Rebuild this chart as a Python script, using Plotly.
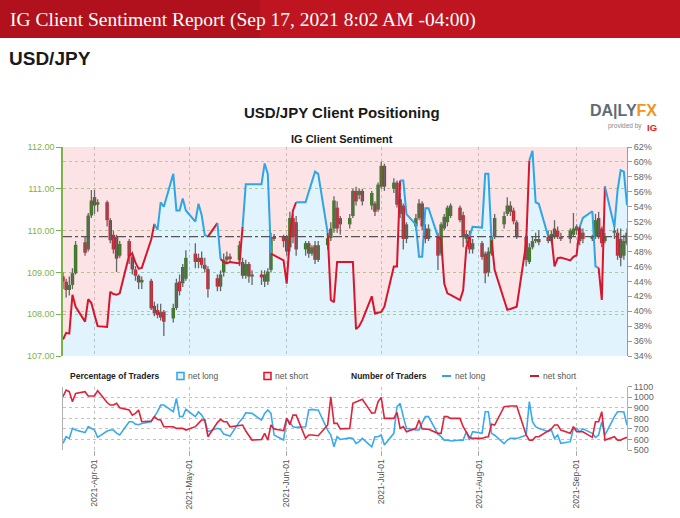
import plotly.graph_objects as go
import pandas as pd

# ---------------- data ----------------
dates = pd.bdate_range("2021-03-22", "2021-09-17")   # trading days shown

price_open = [
    108.90, 108.78, 108.58, 108.70, 108.98,
    109.72, 109.55, 110.36, 110.80, 110.62,
    110.68, 110.25, 109.90, 109.85, 109.40,
    109.75, 109.38, 109.07, 108.92, 108.76,
    108.80, 108.20, 108.10, 108.05, 108.06,
    107.90, 108.15, 108.78, 108.74, 108.85,
    109.45, 109.25, 109.35, 109.18, 109.08,
    108.86, 108.66, 109.00, 109.30, 109.38,
    109.30, 109.25, 108.92, 109.20, 108.90,
    108.95, 108.95, 108.78, 109.06, 109.85,
    109.85, 109.85, 109.60, 110.30, 110.20,
    109.55, 109.70, 109.45, 109.65, 109.30,
    109.65, 109.82, 110.05, 110.55, 110.30,
    110.15, 110.35, 110.95, 110.85, 110.95,
    110.60, 110.65, 110.50, 111.05, 111.55,
    111.00, 111.15, 110.75, 110.60, 109.80,
    110.10, 110.30, 110.65, 110.05, 109.80,
    109.85, 109.45, 110.05, 110.20, 110.35,
    110.55, 110.37, 109.80, 109.90, 109.55,
    109.70, 109.45, 109.00, 109.45, 109.85,
    110.15, 110.40, 110.60, 110.48, 110.20,
    109.85, 109.25, 109.60, 109.75, 109.80,
    109.85, 109.75, 110.05, 110.00, 109.85,
    109.80, 109.90, 110.00, 110.05, 109.95,
    109.80, 109.85, 110.30, 110.05, 109.75,
    109.95, 109.95, 109.80, 109.40, 109.70,
]
price_high = [
    109.00, 108.85, 108.90, 109.10, 109.75,
    109.85, 110.42, 110.97, 110.97, 110.75,
    110.72, 110.30, 110.00, 109.90, 109.75,
    109.80, 109.50, 109.15, 108.95, 108.90,
    108.85, 108.30, 108.25, 108.25, 108.10,
    108.25, 108.85, 108.95, 109.20, 109.53,
    109.70, 109.45, 109.50, 109.35, 109.15,
    108.95, 109.05, 109.45, 109.50, 109.45,
    109.75, 109.35, 109.30, 109.25, 109.05,
    109.05, 109.05, 109.10, 109.95, 109.92,
    109.90, 109.90, 110.45, 110.40, 110.35,
    109.75, 109.75, 109.65, 109.75, 109.75,
    109.90, 110.20, 110.82, 110.70, 110.35,
    110.40, 111.00, 111.05, 111.00, 111.00,
    110.95, 110.70, 111.15, 111.65, 111.60,
    111.25, 111.20, 110.90, 110.65, 110.20,
    110.40, 110.75, 110.70, 110.15, 110.15,
    109.95, 110.20, 110.40, 110.60, 110.65,
    110.60, 110.45, 110.00, 110.00, 109.80,
    109.75, 109.50, 109.60, 109.90, 110.40,
    110.45, 110.80, 110.70, 110.55, 110.25,
    109.90, 109.70, 109.85, 109.95, 110.00,
    110.00, 110.00, 110.25, 110.10, 109.95,
    110.05, 110.42, 110.15, 110.10, 110.05,
    109.90, 110.40, 110.45, 110.10, 109.95,
    110.15, 110.05, 110.05, 109.90, 110.05,
]
price_low = [
    108.60, 108.40, 108.45, 108.60, 108.95,
    109.40, 109.50, 110.30, 110.40, 110.45,
    110.10, 109.70, 109.45, 109.01, 109.35,
    109.20, 108.95, 108.80, 108.60, 108.60,
    108.10, 107.95, 107.90, 107.85, 107.48,
    107.80, 108.10, 108.45, 108.65, 108.80,
    109.10, 109.10, 109.10, 109.00, 108.40,
    108.55, 108.55, 108.90, 109.20, 109.25,
    109.15, 108.85, 108.85, 108.75, 108.70,
    108.70, 108.65, 108.70, 109.00, 109.75,
    109.60, 109.40, 109.50, 109.70, 109.40,
    109.40, 109.35, 109.40, 109.20, 109.25,
    109.55, 109.75, 109.95, 109.95, 109.90,
    110.05, 110.30, 110.60, 110.75, 110.60,
    110.50, 110.35, 110.45, 111.00, 110.95,
    110.90, 110.55, 110.30, 109.55, 109.70,
    110.00, 110.25, 110.00, 109.70, 109.75,
    109.06, 109.40, 110.00, 110.10, 110.30,
    110.20, 109.60, 109.70, 109.45, 109.45,
    109.30, 108.74, 108.90, 109.40, 109.80,
    110.05, 110.35, 110.35, 110.15, 109.80,
    109.15, 109.20, 109.55, 109.70, 109.65,
    109.70, 109.70, 109.80, 109.80, 109.75,
    109.70, 109.85, 109.90, 109.65, 109.70,
    109.75, 109.80, 109.80, 109.60, 109.70,
    109.80, 109.30, 109.15, 109.30, 109.65,
]
price_close = [
    108.78, 108.58, 108.70, 108.98, 109.66,
    109.47, 110.36, 110.72, 110.60, 110.68,
    110.25, 109.77, 109.55, 109.33, 109.68,
    109.38, 109.07, 108.92, 108.76, 108.82,
    108.14, 108.02, 107.98, 107.92, 107.82,
    108.15, 108.75, 108.55, 109.13, 109.35,
    109.25, 109.35, 109.18, 109.08, 108.60,
    108.66, 108.95, 109.30, 109.38, 109.32,
    109.65, 108.92, 109.20, 108.90, 108.95,
    108.88, 108.78, 109.02, 109.85, 109.80,
    109.75, 109.50, 110.30, 109.85, 109.55,
    109.70, 109.45, 109.60, 109.30, 109.65,
    109.82, 110.05, 110.72, 110.05, 110.15,
    110.30, 110.95, 110.70, 110.95, 110.70,
    110.90, 110.45, 111.10, 111.55, 111.05,
    111.15, 110.62, 110.40, 109.80, 110.15,
    110.30, 110.65, 110.10, 109.80, 110.05,
    109.40, 110.15, 110.33, 110.55, 110.60,
    110.25, 109.85, 109.92, 109.55, 109.70,
    109.37, 108.98, 109.50, 109.85, 110.30,
    110.35, 110.60, 110.45, 110.22, 109.85,
    109.30, 109.60, 109.75, 109.80, 109.72,
    109.75, 109.92, 109.85, 109.85, 109.80,
    110.00, 110.05, 110.10, 109.75, 109.80,
    109.86, 110.25, 109.85, 109.70, 109.85,
    110.00, 109.40, 109.35, 109.75, 109.95,
]

# IG client sentiment: share of traders net long (%)
net_long_pct = [
    36.2, 37.1, 37.0, 42.2, 40.6,
    38.6, 41.6, 41.1, 39.5, 38.0,
    37.9, 42.6, 42.3, 42.2, 42.4,
    47.5, 47.7, 46.5, 45.7, 45.8,
    49.6, 51.7, 50.9, 54.6, 54.0,
    58.4, 53.5, 53.5, 55.1, 53.5,
    52.0, 54.4, 52.9, 50.2, 50.0,
    51.8, 47.0, 46.6, 46.4, 46.6,
    46.4, 51.3, 57.0, 57.0, 57.0,
    57.0, 59.8, 58.4, 47.7, 47.5,
    46.8, 43.7, 49.9, 53.5, 54.6,
    54.6, 56.0, 57.5, 58.7, 58.4,
    50.5, 41.5, 41.2, 46.6, 46.6,
    46.6, 46.6, 37.6, 38.0, 38.8,
    42.0, 39.7, 39.8, 39.9, 40.6,
    46.0, 46.0, 57.5, 57.5, 53.0,
    51.6, 47.3, 47.3, 53.8, 53.8,
    50.0, 49.6, 43.7, 42.4, 42.2,
    41.5, 42.8, 48.5, 50.0, 51.3,
    51.2, 58.4, 58.4, 49.5, 45.5,
    41.5, 40.2, 40.3, 40.4, 40.6,
    49.1, 60.2, 61.5, 54.6, 54.4,
    50.0, 50.0, 46.0, 47.1, 47.2,
    46.8, 47.3, 47.5, 51.3, 52.5,
    53.4, 46.0, 45.8, 41.5, 56.7,
    51.3, 56.2, 58.9, 58.7, 54.2,
]
# colour signal of the sentiment line from each day on (L = net long blue, S = net short red)
signal = ("SSSSSSSSSSSSSSSSSSSSS" "LLLLLLLLLLLLL" "S" "L" "SSSSS" "LLLLLLL"
          "SSSSSS" "LLLLLL" "SSSSSSSSSSSSSSSSS" "LLLLLLLL" "SSSSSSSS" "LLLLL"
          "SSSSSSSS" "LLLL" "SSSSSSSS" "LLLL" "SS" "LLLLLL")

# number of traders
traders_long = [
    563, 626, 610, 705, 689,
    665, 721, 705, 689, 620,
    680, 689, 689, 660, 642,
    768, 768, 745, 740, 752,
    768, 816, 863, 926, 926,
    863, 989, 816, 816, 885,
    816, 863, 831, 784, 673,
    705, 696, 651, 640, 632,
    768, 800, 853, 853, 847,
    784, 847, 879, 847, 642,
    594, 800, 760, 721, 714,
    720, 879, 885, 880, 879,
    689, 642, 531, 626, 600,
    615, 610, 563, 579, 610,
    531, 626, 626, 642, 547,
    658, 910, 942, 816, 705,
    689, 689, 760, 816, 816,
    650, 626, 594, 594, 585,
    594, 594, 673, 594, 673,
    658, 863, 863, 658, 640,
    560, 594, 610, 610, 610,
    640, 958, 768, 721, 705,
    673, 689, 610, 642, 563,
    579, 705, 705, 673, 700,
    658, 620, 642, 768, 642,
    816, 863, 863, 860, 737,
]
traders_short = [
    1005, 1068, 1053, 958, 1037,
    1053, 1012, 1012, 1012, 1062,
    950, 926, 926, 942, 900,
    879, 831, 847, 879, 768,
    775, 816, 790, 784, 720,
    721, 705, 705, 705, 689,
    721, 752, 784, 784, 626,
    760, 790, 768, 768, 720,
    737, 737, 680, 642, 594,
    600, 658, 594, 737, 700,
    683, 800, 740, 831, 831,
    610, 642, 642, 642, 635,
    737, 1005, 752, 752, 700,
    705, 942, 955, 965, 980,
    850, 853, 958, 999, 800,
    800, 857, 705, 721, 673,
    705, 784, 700, 696, 696,
    658, 658, 816, 816, 800,
    800, 721, 673, 620, 610,
    610, 620, 626, 745, 737,
    910, 917, 917, 917, 917,
    642, 594, 594, 626, 626,
    680, 700, 737, 737, 689,
    658, 721, 673, 673, 673,
    620, 768, 768, 863, 594,
    626, 594, 594, 610, 620,
]

PRICE_RANGE = [107, 112]
PCT_RANGE = [34, 62]
COUNT_RANGE = [500, 1100]
REF_PCT = 50

# ---------------- styling ----------------
W, H = 680, 518
ML, MR, MT, MB = 63, 53, 147, 68
PW, PH = W - ML - MR, H - MT - MB


def fx(x):
    return (x - ML) / PW


def fy(y):
    return (H - MB - y) / PH


SANS = "Liberation Sans, Arial, sans-serif"
BLUE = "#2fa4e7"
RED = "#d8152c"
GREEN_AX = "#7db249"
GREEN_GRID = "#a6cd83"
GRAY_GRID = "#c2c2c2"
GRAY_TXT = "#666666"
CANDLE_UP = "#3c7a20"
CANDLE_DN = "#cf1f2e"
WICK = "#666666"

n = len(dates)
assert all(len(a) == n for a in [price_open, price_high, price_low, price_close,
                                  net_long_pct, traders_long, traders_short]) and len(signal) == n

fig = go.Figure()

# sentiment fills (base subplot): light blue below the line, pink above
fig.add_trace(go.Scatter(x=dates, y=net_long_pct, mode="lines", line=dict(width=0),
                         fill="tozeroy", fillcolor="rgba(140,210,245,0.26)",
                         xaxis="x", yaxis="y", hoverinfo="skip"))
fig.add_trace(go.Scatter(x=dates, y=[PCT_RANGE[1]] * n, mode="lines", line=dict(width=0),
                         fill="tonexty", fillcolor="rgba(245,150,162,0.27)",
                         xaxis="x", yaxis="y", hoverinfo="skip"))

# candlesticks: wicks + bodies
wx, wy = [], []
for d, lo, hi in zip(dates, price_low, price_high):
    wx += [d, d, None]
    wy += [lo, hi, None]
fig.add_trace(go.Scatter(x=wx, y=wy, mode="lines", line=dict(color=WICK, width=1.3),
                         xaxis="x", yaxis="y2", hoverinfo="skip"))
body_base = [min(o, c) for o, c in zip(price_open, price_close)]
body_len = [max(abs(c - o), 0.03) for o, c in zip(price_open, price_close)]
body_col = [CANDLE_UP if c >= o else CANDLE_DN for o, c in zip(price_open, price_close)]
fig.add_trace(go.Bar(x=dates, y=body_len, base=body_base, marker=dict(color=body_col, line=dict(width=0)),
                     width=1.1 * 86400000, xaxis="x", yaxis="y2", hoverinfo="skip"))

# sentiment line, coloured by signal
i = 0
while i < n:
    j = i
    while j + 1 < n and signal[j + 1] == signal[i]:
        j += 1
    end = min(j + 1, n - 1)
    fig.add_trace(go.Scatter(x=dates[i:end + 1], y=net_long_pct[i:end + 1], mode="lines",
                             line=dict(color=BLUE if signal[i] == "L" else RED, width=2),
                             xaxis="x", yaxis="y3", hoverinfo="skip"))
    i = j + 1

# number of traders
fig.add_trace(go.Scatter(x=dates, y=traders_long, mode="lines", line=dict(color="#3aa9ee", width=1.6),
                         xaxis="x2", yaxis="y4", hoverinfo="skip"))
fig.add_trace(go.Scatter(x=dates, y=traders_short, mode="lines", line=dict(color="#e0223a", width=1.6),
                         xaxis="x2", yaxis="y4", hoverinfo="skip"))

main_dom = [fy(356), 1.0]
sub_dom = [0.0, fy(386.7)]
xr = [dates[0], dates[-1]]

common_x = dict(type="date", range=xr, dtick="M1", tick0="2021-04-01", showgrid=True,
                gridcolor=GRAY_GRID, griddash="dot", gridwidth=1, zeroline=False, automargin=False)

fig.update_layout(
    width=W, height=H, autosize=False, margin=dict(l=ML, r=MR, t=MT, b=MB, pad=0, autoexpand=False),
    paper_bgcolor="white", plot_bgcolor="white", showlegend=False, barmode="overlay",
    hovermode=False,
    xaxis=dict(common_x, anchor="y", domain=[0, 1], showticklabels=False, ticks="", showline=False),
    yaxis=dict(domain=main_dom, anchor="x", range=PCT_RANGE, side="right", dtick=2, ticksuffix="%",
               showgrid=False, zeroline=False, showline=True, linecolor="#9a9a9a", linewidth=1,
               ticks="outside", ticklen=4, tickcolor="#9a9a9a", automargin=False,
               tickfont=dict(family=SANS, size=9, color=GRAY_TXT)),
    yaxis2=dict(overlaying="y", anchor="x", side="left", range=PRICE_RANGE, dtick=1, tickformat=".2f",
                showgrid=True, gridcolor=GREEN_GRID, griddash="dot", zeroline=False,
                showline=True, linecolor=GREEN_AX, linewidth=1.5, ticks="outside", ticklen=5,
                tickcolor=GREEN_AX, automargin=False,
                tickfont=dict(family=SANS, size=9, color=GREEN_AX)),
    yaxis3=dict(overlaying="y", anchor="x", side="right", range=PCT_RANGE, dtick=10, tick0=0,
                showgrid=True, gridcolor=GRAY_GRID, griddash="dot", zeroline=False,
                showticklabels=False, ticks="", showline=False, automargin=False),
    xaxis2=dict(common_x, anchor="y4", domain=[0, 1], matches="x", tickformat="%Y-%b-%d",
                tickangle=-90, ticks="outside", ticklen=5, tickcolor="#aaaaaa", showline=False,
                tickfont=dict(family=SANS, size=8.5, color="#555555")),
    yaxis4=dict(domain=sub_dom, anchor="x2", side="right", range=COUNT_RANGE, dtick=100,
                showgrid=True, gridcolor=GRAY_GRID, griddash="dot", zeroline=False,
                showline=True, mirror=True, linecolor="#b0b0b0", ticks="outside", ticklen=4,
                tickcolor="#9a9a9a", automargin=False,
                tickfont=dict(family=SANS, size=9, color=GRAY_TXT)),
)

shapes = [
    # header banner
    dict(type="rect", xref="paper", yref="paper", x0=fx(0), x1=fx(W), y0=fy(38), y1=fy(0),
         fillcolor="#be1520", line=dict(width=0), layer="below"),
    dict(type="rect", xref="paper", yref="paper", x0=fx(0), x1=fx(260), y0=fy(38), y1=fy(0),
         fillcolor="rgba(120,0,10,0.18)", line=dict(width=0), layer="below"),
    # 50% reference line
    dict(type="line", xref="x domain", yref="y3", x0=0, x1=1, y0=REF_PCT, y1=REF_PCT,
         line=dict(color="#555555", width=1.2, dash="dashdot"), layer="above"),
    # legend symbols
    dict(type="rect", xref="paper", yref="paper", x0=fx(177), x1=fx(184), y0=fy(379.5), y1=fy(372.5),
         fillcolor="#e4f4fc", line=dict(color=BLUE, width=1.5)),
    dict(type="rect", xref="paper", yref="paper", x0=fx(264), x1=fx(271), y0=fy(379.5), y1=fy(372.5),
         fillcolor="#fde4e7", line=dict(color=RED, width=1.5)),
    dict(type="line", xref="paper", yref="paper", x0=fx(442), x1=fx(451), y0=fy(376), y1=fy(376),
         line=dict(color=BLUE, width=2)),
    dict(type="line", xref="paper", yref="paper", x0=fx(530), x1=fx(539), y0=fy(376), y1=fy(376),
         line=dict(color=RED, width=2)),
]


def ann(x, y, text, size, color="#222222", family=SANS, xanchor="left", yanchor="middle"):
    return dict(x=fx(x), y=fy(y), xref="paper", yref="paper", text=text, showarrow=False,
                xanchor=xanchor, yanchor=yanchor, borderpad=0,
                font=dict(family=family, size=size, color=color))


annotations = [
    ann(9, 20, "IG Client Sentiment Report (Sep 17, 2021 8:02 AM -04:00)", 19.5, "white",
        "Liberation Serif, Times New Roman, serif"),
    ann(8, 58, "<b>USD/JPY</b>", 19, "#1a1a1a", SANS),
    ann(342, 112, "<b>USD/JPY Client Positioning</b>", 15, "#1a1a1a", SANS, "center"),
    ann(342, 139, "<b>IG Client Sentiment</b>", 11, "#1a1a1a", SANS, "center"),
    ann(658, 110, "<b><span style='color:#5f6b75'>DA|LY</span><span style='color:#f39422'>FX</span></b>",
        16, "#5f6b75", SANS, "right"),
    ann(643, 121, "provided by", 6.5, "#888888", SANS, "right", "top"),
    ann(646, 120.5, "<b>IG</b>", 9.5, "#e2231a", SANS, "left", "top"),
    ann(69, 376, "<b>Percentage of Traders</b>", 8.5, "#222222", SANS),
    ann(187, 376, "net long", 8.5, "#555555", SANS),
    ann(274, 376, "net short", 8.5, "#555555", SANS),
    ann(350, 376, "<b>Number of Traders</b>", 8.5, "#222222", SANS),
    ann(454, 376, "net long", 8.5, "#555555", SANS),
    ann(542, 376, "net short", 8.5, "#555555", SANS),
]

fig.update_layout(shapes=shapes, annotations=annotations)
fig.write_html(
    "out.html",
    config={"responsive": False, "displayModeBar": False},
    post_script=("document.documentElement.style.margin='0px';"
                 "document.body.style.margin='0px';"
                 "document.documentElement.style.overflow='hidden';"
                 "document.body.style.overflow='hidden';"
                 "var gd=document.getElementById('{plot_id}');"
                 "gd.style.width='%dpx';gd.style.height='%dpx';"
                 "Plotly.relayout(gd,{width:%d,height:%d,autosize:false});" % (W, H, W, H)),
)
